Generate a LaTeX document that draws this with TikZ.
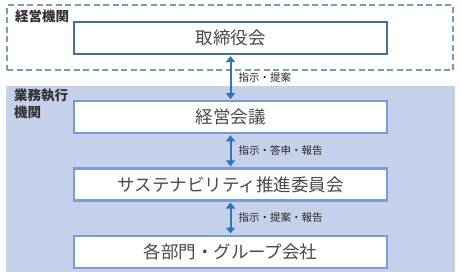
\documentclass[tikz,border=0pt]{standalone}
\usepackage{fontspec}
\setmainfont{Noto Sans CJK JP}
\usepackage{xcolor}
\usetikzlibrary{arrows.meta,positioning}
\definecolor{regionfill}{HTML}{C5D0EA}
\definecolor{dashblue}{HTML}{739CC4}
\definecolor{topedge}{HTML}{41719C}
\definecolor{boxedge}{HTML}{7A9CCF}
\definecolor{arrowblue}{HTML}{2E75B6}
\definecolor{boxtext}{HTML}{4A4A4A}
\tikzset{
  topbox/.style={draw=topedge, line width=2.2pt, fill=white, minimum width=313pt, minimum height=32pt, inner sep=0pt, font=\fontsize{17.5}{20}\selectfont, text=boxtext},
  orgbox/.style={topbox, draw=boxedge},
  mgmtframe/.style={draw=dashblue, line width=2pt, dash pattern=on 6pt off 3.5pt, minimum width=446pt, minimum height=65pt, inner sep=0pt},
  execregion/.style={fill=regionfill, minimum width=449pt, minimum height=186pt, inner sep=0pt},
  grouplabel/.style={anchor=north west, align=left, inner sep=0pt, font=\bfseries\fontsize{13.5}{17}\selectfont, text=black!80},
  flowlabel/.style={anchor=west, inner sep=0pt, font=\fontsize{10.5}{12}\selectfont, text=black!85},
  arrow/.style={{Triangle[width=9pt,length=6pt]}-{Triangle[width=9pt,length=6pt]}, line width=2pt, draw=arrowblue, shorten <=1pt, shorten >=1pt}
}
\begin{document}
\begin{tikzpicture}[x=1pt, y=-1pt, node distance=33pt]
  \useasboundingbox[fill=white] (0,0) rectangle (460,277);
  % groups
  \node[mgmtframe] (mgmt) at (230,37.5) {};
  \node[execregion] (exec) at (230.5,179) {};
  \node[grouplabel] (mgmtlabel) at (15,10) {経営機関};
  \node[grouplabel] (execlabel) at (14,89) {業務執行\\機関};

  % boxes
  \node[topbox] (board) at (230.5,38) {取締役会};
  \node[orgbox, below=45pt of board] (council) {経営会議};
  \node[orgbox, below=of council] (committee) {サステナビリティ推進委員会};
  \node[orgbox, below=of committee] (units) {各部門・グループ会社};

  \draw[arrow] (board) -- (council) node[flowlabel, midway, xshift=7pt] {指示・提案};
  \draw[arrow] (council) -- (committee) node[flowlabel, midway, xshift=7pt] {指示・答申・報告};
  \draw[arrow] (committee) -- (units) node[flowlabel, midway, xshift=7pt] {指示・提案・報告};
\end{tikzpicture}
\end{document}
